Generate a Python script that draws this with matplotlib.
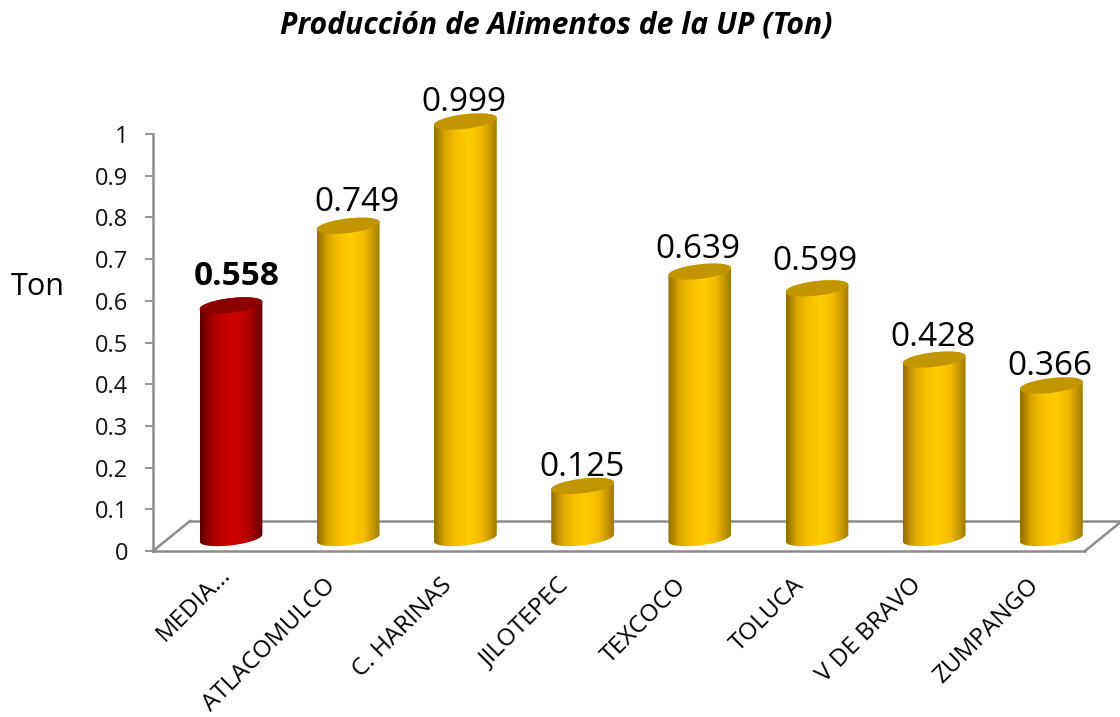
"""Produccion de alimentos chart with fake 3D cylinders."""

import matplotlib

matplotlib.use("Agg")
import matplotlib.pyplot as plt
import numpy as np
from matplotlib.colors import LinearSegmentedColormap
from matplotlib.patches import PathPatch, Polygon
from matplotlib.path import Path
from matplotlib.transforms import ScaledTranslation

categories = [
    "MEDIA...",
    "ATLACOMULCO",
    "C. HARINAS",
    "JILOTEPEC",
    "TEXCOCO",
    "TOLUCA",
    "V DE BRAVO",
    "ZUMPANGO",
]
values = [0.558, 0.749, 0.999, 0.125, 0.639, 0.599, 0.428, 0.366]
y_ticks = [0, 0.1, 0.2, 0.3, 0.4, 0.5, 0.6, 0.7, 0.8, 0.9, 1]
y_tick_labels = ["0", "0.1", "0.2", "0.3", "0.4", "0.5", "0.6", "0.7", "0.8", "0.9", "1"]

# label nudges in pixels, the original labels sit a bit unevenly
label_dx = [6, 9, -2, -1, -2, -2, -1, -2]
label_dy = [29, 23, 19, 18, 22, 27, 22, 19]
# first category label is shorter than its slot and sits further up and right
tick_dx = [-13, -25, -25, -25, -25, -25, -25, -25]
tick_dy = [8, -3, -3, -3, -3, -3, -3, -3]

GREY = "#8c8c8c"
WIDTH = 0.535
BASE = 0.031
RY = 0.0175
TILT = 0.0085

gold = LinearSegmentedColormap.from_list(
    "gold",
    [
        (0.0, "#8f6c00"),
        (0.18, "#dca800"),
        (0.35, "#f9bf00"),
        (0.55, "#ffcc00"),
        (0.75, "#f5bb00"),
        (0.9, "#c49500"),
        (1.0, "#a07a00"),
    ],
)
red = LinearSegmentedColormap.from_list(
    "red",
    [
        (0.0, "#5c0000"),
        (0.18, "#a00000"),
        (0.35, "#c20000"),
        (0.55, "#cc0000"),
        (0.75, "#b80000"),
        (0.9, "#860000"),
        (1.0, "#5c0000"),
    ],
)


def ellipse_xy(x, y, t):
    xs = x + WIDTH / 2 * np.cos(t)
    ys = y + RY * np.sin(t) + TILT * np.cos(t)
    return np.column_stack([xs, ys])


plt.rcParams["font.family"] = ["Open Sans", "DejaVu Sans"]

fig = plt.figure(figsize=(11.2, 7.17), dpi=100)
ax = fig.add_axes([153 / 1120, (717 - 551) / 717, (1085 - 153) / 1120, 417 / 717])

x_left = (153 - 231) / 117.2
x_right = (1085 - 231) / 117.2

for i, (cat, val) in enumerate(zip(categories, values)):
    cmap = red if i == 0 else gold
    top_color = "#8b0000" if i == 0 else "#c29600"
    top = BASE + val

    lower = ellipse_xy(i, BASE, np.linspace(np.pi, 2 * np.pi, 60))
    upper = ellipse_xy(i, top, np.linspace(0, np.pi, 60))
    body = Path(np.vstack([lower, upper, lower[:1]]), closed=True)

    im = ax.imshow(
        np.linspace(0, 1, 256).reshape(1, -1),
        cmap=cmap,
        extent=(i - WIDTH / 2, i + WIDTH / 2, BASE - 0.03, top + 0.03),
        aspect="auto",
        zorder=3,
    )
    im.set_clip_path(PathPatch(body, transform=ax.transData))
    im.set_clip_box(fig.bbox)  # the tallest bar goes above the axes

    cap = ellipse_xy(i, top, np.linspace(0, 2 * np.pi, 120))
    ax.add_patch(
        Polygon(cap, closed=True, facecolor=top_color, edgecolor="none", zorder=4, clip_on=False)
    )

    offset = ScaledTranslation(label_dx[i] / 100, label_dy[i] / 100, fig.dpi_scale_trans)
    ax.text(
        i,
        top,
        f"{val:.3f}",
        transform=ax.transData + offset,
        ha="center",
        va="center",
        fontsize=24,
        fontweight="bold" if i == 0 else "normal",
        color="black",
        clip_on=False,
        zorder=5,
    )

ax.set_xlim(x_left, x_right)
ax.set_ylim(0, 1)

# floor of the 3D box, drawn in pixels from the axes corners
depth = ScaledTranslation(37 / 100, 30 / 100, fig.dpi_scale_trans)
floor_tr = ax.get_xaxis_transform() + depth
ax.plot([x_left, x_right], [0, 0], color=GREY, lw=1.8, transform=floor_tr, clip_on=False, zorder=1)
for xv in (x_left, x_right):
    a = ax.get_xaxis_transform().transform((xv, 0))
    b = floor_tr.transform((xv, 0))
    fig.add_artist(
        plt.Line2D([a[0], b[0]], [a[1], b[1]], color=GREY, lw=1.8, transform=None, zorder=1)
    )

for side in ["top", "right"]:
    ax.spines[side].set_visible(False)
for side in ["left", "bottom"]:
    ax.spines[side].set_color(GREY)
    ax.spines[side].set_linewidth(1.8)

ax.set_yticks(y_ticks)
ax.set_yticklabels(y_tick_labels, fontsize=17, color="#111111")
ax.tick_params(axis="y", length=6, width=1.3, color=GREY, pad=12)

ax.set_xticks(range(len(categories)))
ax.set_xticklabels(categories, rotation=45, ha="right", rotation_mode="anchor", fontsize=17.5)
ax.tick_params(axis="x", length=0, pad=14)
for lab, dx, dy in zip(ax.get_xticklabels(), tick_dx, tick_dy):
    shift = ScaledTranslation(dx / 100, dy / 100, fig.dpi_scale_trans)
    lab.set_transform(lab.get_transform() + shift)

fig.text(38 / 1120, 1 - 287 / 717, "Ton", fontsize=22, ha="center", va="center")
fig.text(
    556 / 1120,
    1 - 26 / 717,
    "Producción de Alimentos de la UP (Ton)",
    fontsize=21.7,
    fontweight="bold",
    fontstyle="italic",
    ha="center",
    va="center",
)

fig.savefig("out.png", dpi=100)
